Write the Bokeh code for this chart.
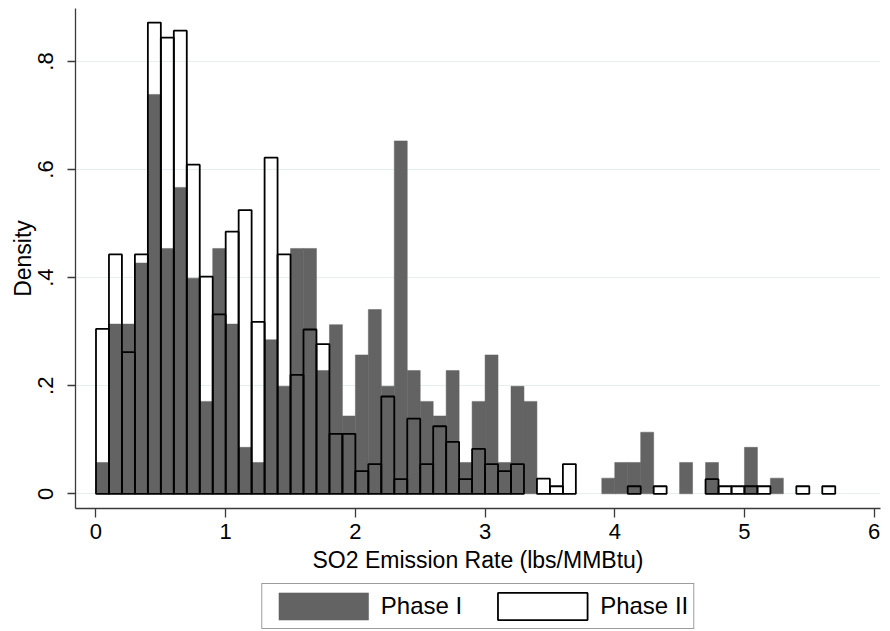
from bokeh.plotting import figure
from bokeh.layouts import column
from bokeh.models import (ColumnDataSource, FixedTicker, Legend, LegendItem, Range1d)
from bokeh.embed import file_html
from bokeh.resources import INLINE

# Histogram bins of width 0.1 lbs/MMBtu starting at 0
bin_width = 0.1
bin_starts = [round(i * bin_width, 1) for i in range(57)]

# Density per bin, Phase I units
phase1_density = [
    0.058, 0.314, 0.314, 0.427, 0.739, 0.454, 0.567, 0.399, 0.171, 0.454,
    0.314, 0.086, 0.058, 0.285, 0.199, 0.454, 0.454, 0.228, 0.313, 0.144,
    0.257, 0.341, 0.199, 0.653, 0.228, 0.171, 0.144, 0.228, 0.058, 0.171,
    0.257, 0.058, 0.199, 0.171, 0.0, 0.0, 0.0, 0.0, 0.0, 0.029,
    0.058, 0.058, 0.114, 0.0, 0.0, 0.058, 0.0, 0.058, 0.0, 0.0,
    0.086, 0.0, 0.029, 0.0, 0.0, 0.0, 0.0,
]

# Density per bin, Phase II units
phase2_density = [
    0.305, 0.443, 0.262, 0.443, 0.872, 0.844, 0.857, 0.609, 0.402, 0.332,
    0.485, 0.525, 0.318, 0.622, 0.443, 0.220, 0.304, 0.277, 0.111, 0.111,
    0.042, 0.055, 0.180, 0.027, 0.139, 0.055, 0.125, 0.096, 0.027, 0.083,
    0.055, 0.042, 0.055, 0.0, 0.028, 0.014, 0.055, 0.0, 0.0, 0.0,
    0.0, 0.014, 0.0, 0.014, 0.0, 0.0, 0.0, 0.027, 0.014, 0.014,
    0.014, 0.014, 0.0, 0.0, 0.014, 0.0, 0.014,
]

x_ticks = [0, 1, 2, 3, 4, 5, 6]
y_ticks = [0, 0.2, 0.4, 0.6, 0.8]
y_tick_labels = ["0", ".2", ".4", ".6", ".8"]
series_names = ["Phase I", "Phase II"]

FONT = "Liberation Sans"
GRAY = "#636363"
AXIS = "#3a3a3a"
PHASE1_STYLE = dict(fill_color=GRAY, line_color=GRAY, line_width=0.5)
PHASE2_STYLE = dict(fill_color=None, line_color="black", line_width=1.8)


def bins_source(density):
    left, right, top = [], [], []
    for start, d in zip(bin_starts, density):
        if d > 0:
            left.append(start)
            right.append(start + bin_width)
            top.append(d)
    return ColumnDataSource(dict(left=left, right=right, top=top,
                                 bottom=[0] * len(top)))


# ---- histogram panel ----
p = figure(width=890, height=580, output_backend="svg", toolbar_location=None,
           x_range=Range1d(-0.158, 6.049), y_range=Range1d(-0.0272, 0.898),
           min_border_left=75, min_border_right=10, min_border_top=8,
           min_border_bottom=72)
p.outline_line_color = None
p.background_fill_color = "white"
p.border_fill_color = "white"

p.quad(left="left", right="right", top="top", bottom="bottom",
       source=bins_source(phase1_density), **PHASE1_STYLE)
p.quad(left="left", right="right", top="top", bottom="bottom",
       source=bins_source(phase2_density), **PHASE2_STYLE)

for ax in (p.xaxis[0], p.yaxis[0]):
    ax.axis_line_color = AXIS
    ax.axis_line_width = 1.3
    ax.major_tick_line_color = AXIS
    ax.major_tick_line_width = 1.3
    ax.minor_tick_line_color = None
    ax.major_tick_in = 0
    ax.major_label_text_font = FONT
    ax.major_label_text_font_size = "22px"
    ax.major_label_text_color = "black"
    ax.axis_label_text_font = FONT
    ax.axis_label_text_font_size = "23px"
    ax.axis_label_text_font_style = "normal"
    ax.axis_label_text_color = "black"

p.xaxis.ticker = FixedTicker(ticks=x_ticks)
p.xaxis.major_tick_out = 9
p.xaxis.major_label_standoff = 6
p.xaxis.axis_label = "SO2 Emission Rate (lbs/MMBtu)"
p.xaxis.axis_label_standoff = 5

p.yaxis.ticker = FixedTicker(ticks=y_ticks)
p.yaxis.major_label_overrides = {t: s for t, s in zip(y_ticks, y_tick_labels)}
p.yaxis.major_label_orientation = "vertical"
p.yaxis.major_tick_out = 8
p.yaxis.major_label_standoff = 14
p.yaxis.axis_label = "Density"
p.yaxis.axis_label_standoff = 0

p.xgrid.grid_line_color = None
p.ygrid.ticker = FixedTicker(ticks=y_ticks)
p.ygrid.grid_line_color = "#e6efef"
p.ygrid.grid_line_width = 1

# ---- legend strip under the histogram ----
leg = figure(width=890, height=51, output_backend="svg", toolbar_location=None,
             x_range=Range1d(0, 1), y_range=Range1d(0, 1),
             x_axis_location=None, y_axis_location=None, min_border=0)
leg.outline_line_color = None
leg.xgrid.visible = False
leg.ygrid.visible = False
# key swatches: one off-screen quad per series so the legend has glyphs to draw
offscreen = dict(left=[2], right=[3], top=[3], bottom=[2])
k1 = leg.quad(left="left", right="right", top="top", bottom="bottom",
              source=ColumnDataSource(offscreen), **PHASE1_STYLE)
k2 = leg.quad(left="left", right="right", top="top", bottom="bottom",
              source=ColumnDataSource(offscreen), **PHASE2_STYLE)

legend = Legend(items=[LegendItem(label=series_names[0], renderers=[k1]),
                       LegendItem(label=series_names[1], renderers=[k2])],
                orientation="horizontal", location="center")
legend.glyph_width = 112
legend.glyph_height = 34
legend.label_standoff = 2
legend.spacing = 24
legend.padding = 5
legend.margin = 0
legend.label_text_font = FONT
legend.label_text_font_size = "24px"
legend.label_text_color = "black"
legend.border_line_color = AXIS
legend.border_line_width = 1.5
legend.background_fill_color = "white"
legend.click_policy = "none"
leg.add_layout(legend, "center")

layout = column(p, leg, spacing=0)
open("out.html", "w").write(file_html(layout, INLINE))
